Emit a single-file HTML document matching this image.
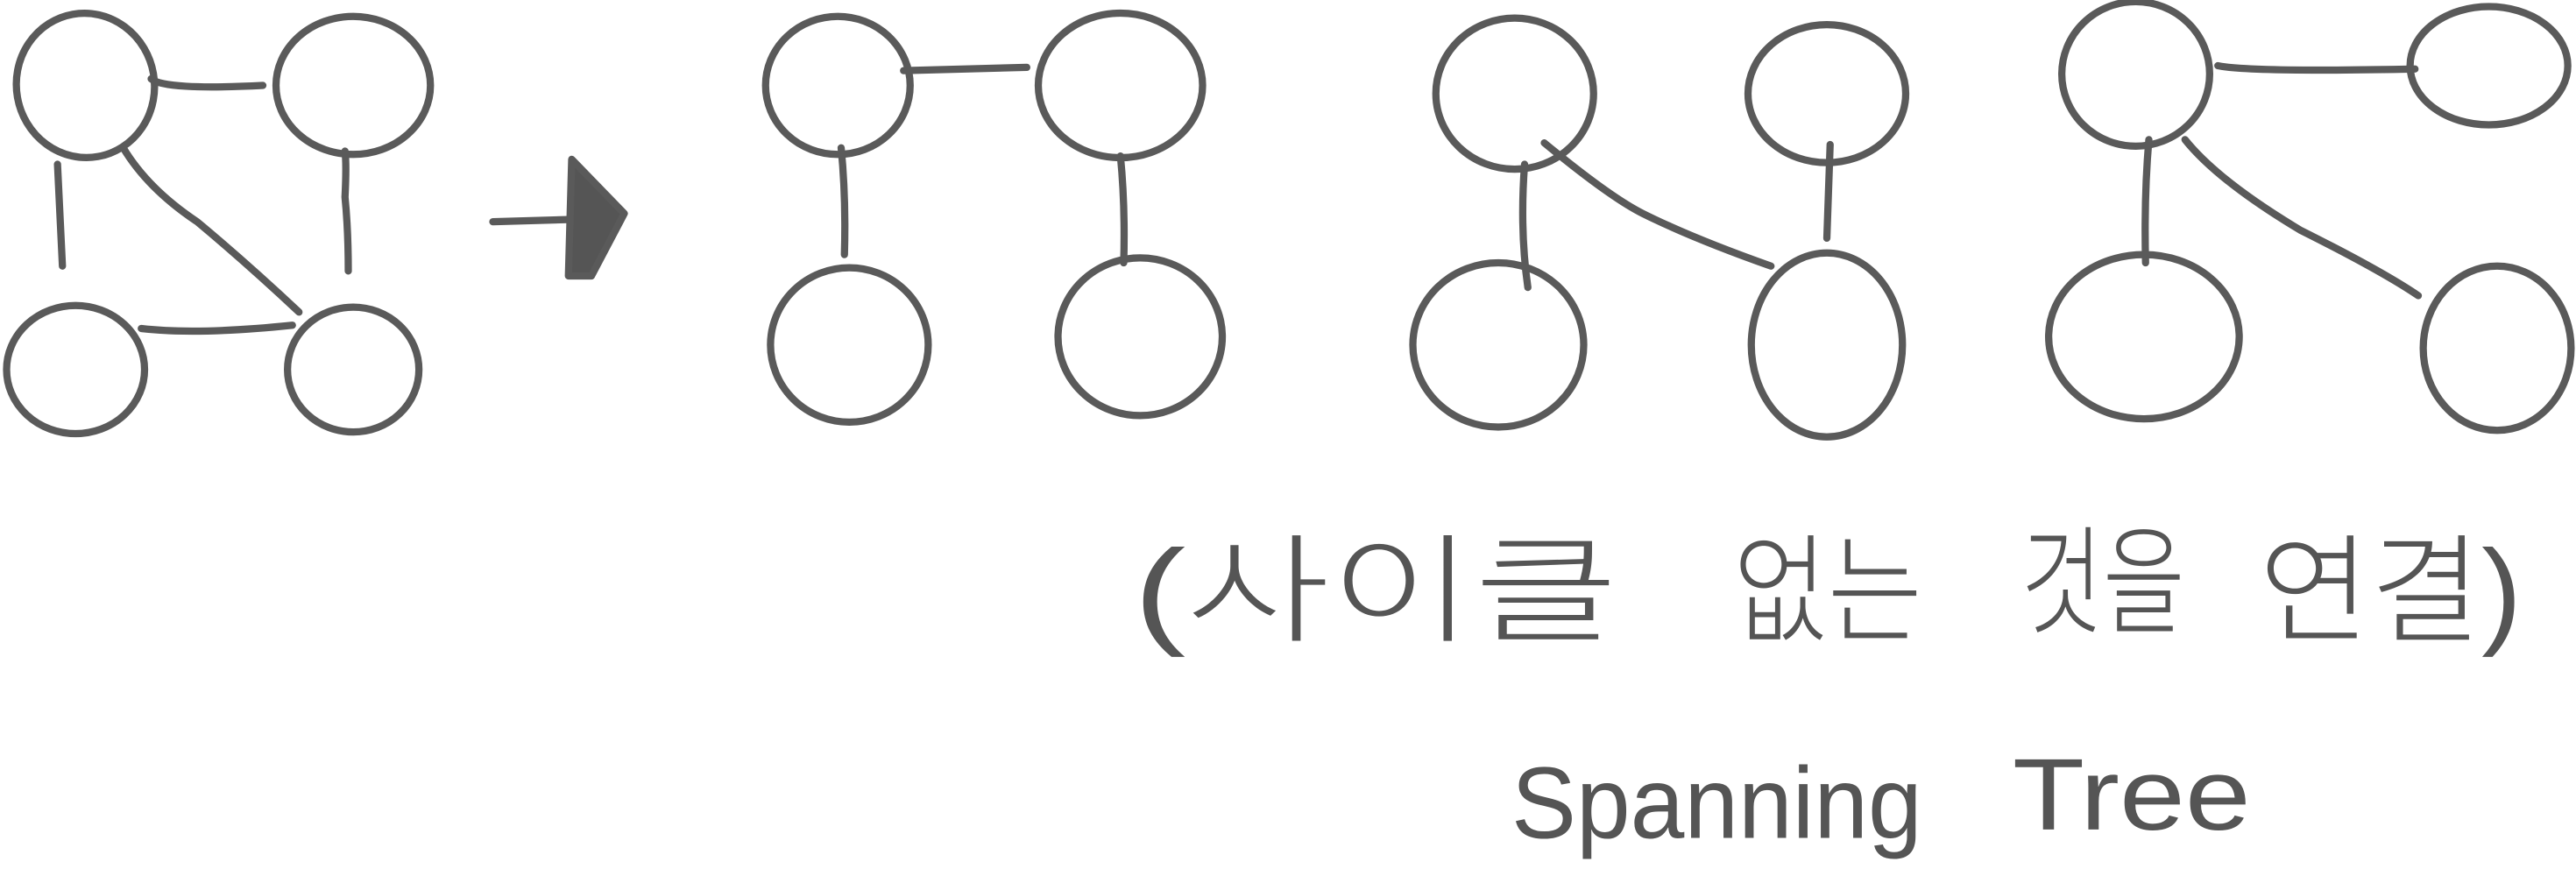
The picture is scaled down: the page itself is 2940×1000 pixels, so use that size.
<!DOCTYPE html>
<html><head><meta charset="utf-8"><style>
html,body{margin:0;padding:0;background:#fff;width:2940px;height:1000px;overflow:hidden}
svg{display:block}
text{font-family:"Liberation Sans","Noto Sans CJK KR",sans-serif;fill:#555;font-weight:300}
</style></head><body>
<svg width="2940" height="1000" viewBox="0 0 1568 533.33" xmlns="http://www.w3.org/2000/svg">
<g fill="none" stroke="#5a5a5a" stroke-width="4.4" stroke-linecap="round" stroke-linejoin="round">
<!-- graph 1 -->
<ellipse cx="52" cy="52" rx="42" ry="44" transform="rotate(-10 52 52)"/>
<ellipse cx="215" cy="52" rx="47" ry="42"/>
<ellipse cx="46" cy="225" rx="42" ry="39"/>
<ellipse cx="215" cy="225" rx="40" ry="38"/>
<path d="M92 48 Q100 55 160 52"/>
<path d="M35 100 L38 162"/>
<path d="M210 92 Q211 100 210 120 Q212 140 212 165"/>
<path d="M86 200 Q120 204 178 198"/>
<path d="M75 90 Q90 115 120 135 Q150 160 182 190"/>
<!-- arrow -->
<path d="M300 135 L370 133"/>
<path d="M348 97 L380 130 L360 168 L346 168 Z" fill="#555"/>
<!-- graph 2 -->
<ellipse cx="510" cy="52" rx="44" ry="42"/>
<ellipse cx="682" cy="52" rx="50" ry="44"/>
<ellipse cx="517" cy="210" rx="48" ry="47"/>
<ellipse cx="694" cy="205" rx="50" ry="48"/>
<path d="M550 43 L625 41"/>
<path d="M512 90 Q515 120 514 155"/>
<path d="M682 95 Q685 125 684 160"/>
<!-- graph 3 -->
<ellipse cx="922" cy="57" rx="48" ry="46"/>
<ellipse cx="1112" cy="57" rx="48" ry="42"/>
<ellipse cx="912" cy="210" rx="52" ry="50"/>
<ellipse cx="1112" cy="210" rx="46" ry="56"/>
<path d="M940 87 Q980 120 1000 130 Q1030 145 1078 162"/>
<path d="M928 100 Q925 140 930 175"/>
<path d="M1114 88 L1112 145"/>
<!-- graph 4 -->
<ellipse cx="1300" cy="45" rx="45" ry="44"/>
<ellipse cx="1515" cy="40" rx="48" ry="36"/>
<ellipse cx="1305" cy="205" rx="58" ry="50"/>
<ellipse cx="1520" cy="212" rx="45" ry="50"/>
<path d="M1350 40 Q1370 44 1470 42"/>
<path d="M1308 85 Q1305 120 1306 160"/>
<path d="M1330 85 Q1350 110 1400 140 Q1450 165 1472 180"/>
</g>
<text x="690" y="385" font-size="72" textLength="295" lengthAdjust="spacingAndGlyphs">(사이클</text>
<text x="1055" y="385" font-size="72" textLength="115" lengthAdjust="spacingAndGlyphs">없는</text>
<text x="1230" y="380" font-size="72" textLength="100" lengthAdjust="spacingAndGlyphs">것을</text>
<text x="1375" y="385" font-size="72" textLength="160" lengthAdjust="spacingAndGlyphs">연결)</text>
<text x="920" y="510" font-size="62" textLength="250" lengthAdjust="spacingAndGlyphs">Spanning</text>
<text x="1225" y="505" font-size="62" textLength="145" lengthAdjust="spacingAndGlyphs">Tree</text>
</svg>
</body></html>
